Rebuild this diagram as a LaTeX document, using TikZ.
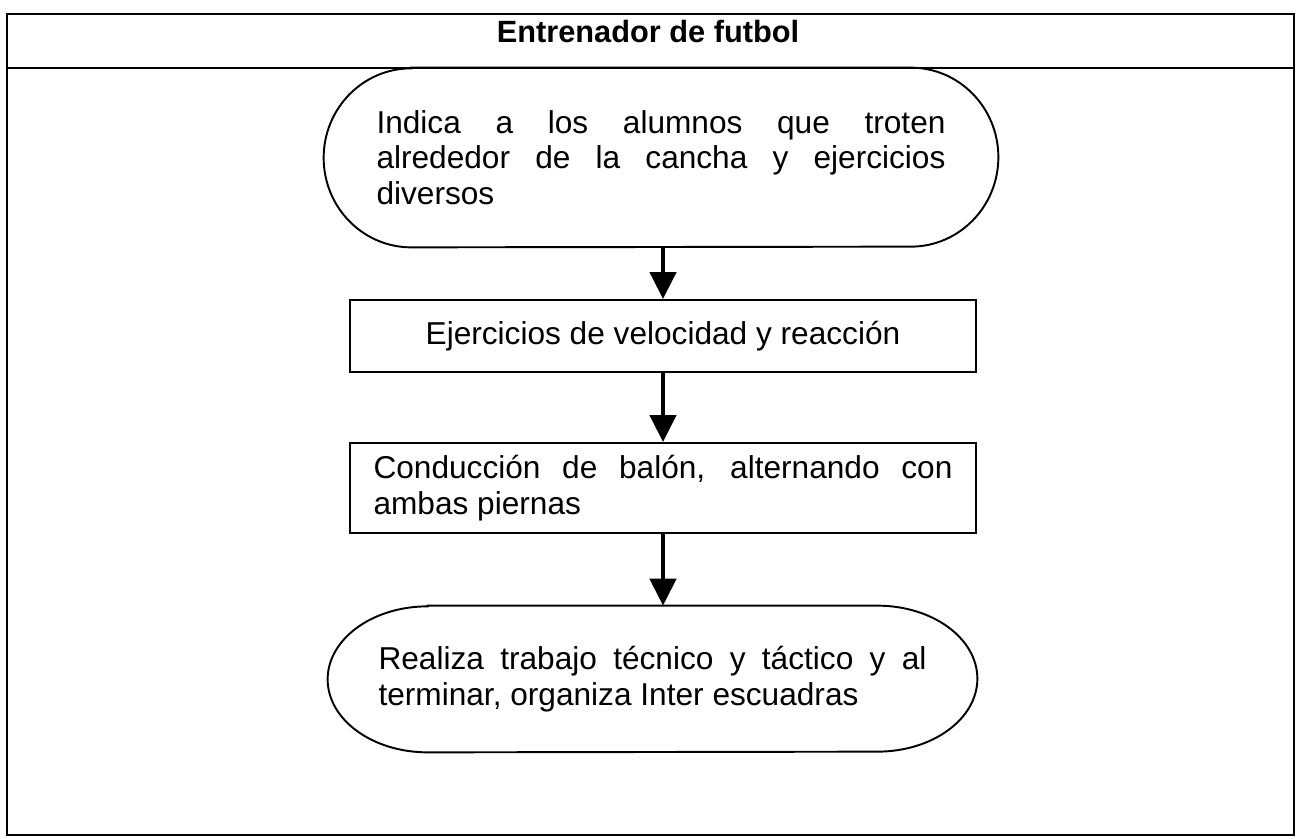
\documentclass[tikz,border=0pt]{standalone}
\usepackage{fontspec}
\setmainfont{Liberation Sans}
\usetikzlibrary{positioning,arrows.meta}

\newcommand{\cuerpo}{\fontsize{18}{20.2}\selectfont}
\newcommand{\titulo}{\fontsize{17.5}{20}\selectfont\bfseries}

% borde de un nodo terminal: nodo, radio x, radio y
\newcommand{\bordeterminal}[3]{%
    \draw[borde] ([xshift=#2]#1.north west) -- ([xshift=-#2]#1.north east)
        arc[start angle=90, end angle=-90, x radius=#2, y radius=#3]
        -- ([xshift=#2]#1.south west)
        arc[start angle=270, end angle=90, x radius=#2, y radius=#3] -- cycle;}

\tikzset{
    borde/.style={line width=1.1pt},
    terminal/.style={inner sep=0pt, align=justify, font=\cuerpo},
    proceso/.style={draw, borde, inner sep=0pt, font=\cuerpo},
    flecha/.style={line width=2.6pt, -{Triangle[width=0.52cm,length=0.54cm]}}
}

\begin{document}
\begin{tikzpicture}
    \useasboundingbox (0,0) rectangle (25.92,-16.78);

    % Marco y encabezado
    \draw[borde] (0.14,-0.28) rectangle (25.88,-16.7);
    \draw[borde] (0.14,-1.36) -- (25.88,-1.36);
    \node[font=\titulo] (titulo) at (12.96,-0.64) {Entrenador de futbol};

    % Pasos del entrenamiento
    \node[terminal, minimum width=13.48cm, minimum height=3.58cm, text width=11.38cm] (inicio) at (13.22,-3.15)
        {Indica a los alumnos que troten\linebreak alrededor de la cancha y ejercicios\linebreak diversos};
    \bordeterminal{inicio}{1.75cm}{1.79cm}
    \node[proceso, minimum width=12.52cm, minimum height=1.44cm] (velocidad) at (13.26,-6.72)
        {Ejercicios de velocidad y reacción};
    \node[proceso, minimum width=12.52cm, minimum height=1.8cm, text width=11.58cm, align=justify] (conduccion) at (13.26,-9.76)
        {Conducción de balón, alternando con\linebreak ambas piernas};
    \node[terminal, minimum width=12.98cm, minimum height=2.92cm, text width=10.96cm] (final) at (13.05,-13.58)
        {Realiza trabajo técnico y táctico y al\linebreak terminar, organiza Inter escuadras};
    \bordeterminal{final}{2.0cm}{1.46cm}

    % Flechas
    \draw[flecha] (velocidad.north |- inicio.south) -- (velocidad.north);
    \draw[flecha] (velocidad.south) -- (velocidad.south |- conduccion.north);
    \draw[flecha] (conduccion.south) -- (conduccion.south |- final.north);
\end{tikzpicture}
\end{document}
